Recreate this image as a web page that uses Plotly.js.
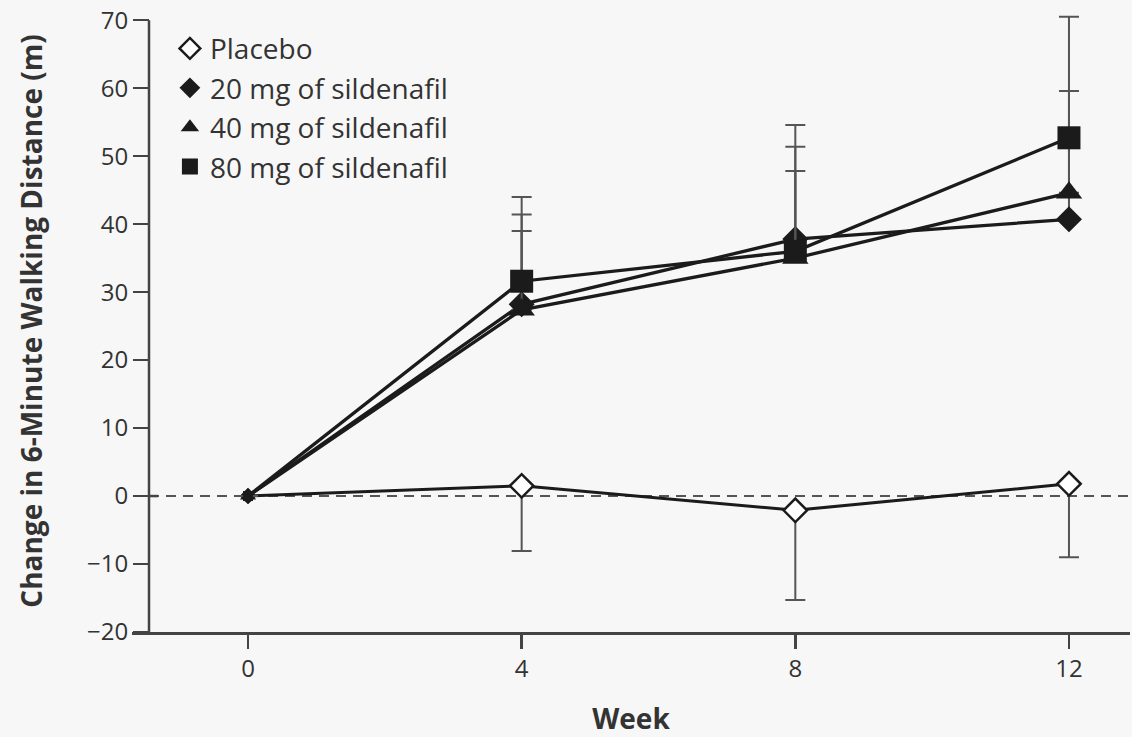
<!DOCTYPE html>
<html>
<head>
<meta charset="utf-8">
<script src="https://cdn.plot.ly/plotly-3.0.1.min.js"></script>
<style>
  html, body { margin: 0; padding: 0; background: #f7f7f7; }
  #chart { width: 1132px; height: 737px; }
</style>
</head>
<body>
<div id="chart"></div>
<script>
// ---- data ----
var weeks = [0, 4, 8, 12];
var weekLabels = ['0', '4', '8', '12'];

var placebo = [0, 1.5, -2.1, 1.8];
var placeboLower = [null, -8.1, -15.3, -9.0];

var mg20 = [0, 28.2, 37.8, 40.7];
var mg20Upper = [null, 41.4, 51.4, 53.0];

var mg40 = [0, 27.4, 35.0, 44.6];
var mg40Upper = [null, 39.0, 47.8, 59.6];

var mg80 = [0, 31.6, 36.0, 52.7];
var mg80Upper = [null, 44.0, 54.6, 70.5];

var seriesNames = ['Placebo', '20 mg of sildenafil', '40 mg of sildenafil', '80 mg of sildenafil'];

// ---- helpers ----
function diffUp(vals, up) { return vals.map(function (v, i) { return up[i] == null ? 0 : up[i] - v; }); }
function diffDown(vals, lo) { return vals.map(function (v, i) { return lo[i] == null ? 0 : v - lo[i]; }); }
function zeros(n) { var a = []; for (var i = 0; i < n; i++) a.push(0); return a; }
function sizes(first, rest, n) { var a = [first]; for (var i = 1; i < n; i++) a.push(rest); return a; }

var lineColor = '#1b1b1b';
var errColor = '#555555';
var axisColor = '#444444';
var FONT = '"Open Sans", Lato, sans-serif';
var TXT = '#333333';

function errUp(vals, up) {
  return { type: 'data', symmetric: false, array: diffUp(vals, up), arrayminus: zeros(vals.length),
           color: errColor, thickness: 2, width: 10 };
}

var n = weeks.length;
var traces = [
  { x: weeks, y: placebo, mode: 'lines+markers', showlegend: false, cliponaxis: false,
    line: { color: lineColor, width: 3 },
    marker: { symbol: 'diamond', size: sizes(10, 18, n), opacity: 1, color: '#ffffff', line: { width: 2.5, color: lineColor } },
    error_y: { type: 'data', symmetric: false, array: zeros(n),
               arrayminus: diffDown(placebo, placeboLower), color: errColor, thickness: 2, width: 10 } },
  { x: weeks, y: mg20, mode: 'lines+markers', showlegend: false, cliponaxis: false,
    line: { color: lineColor, width: 3.3 },
    marker: { symbol: 'diamond', size: sizes(12, 20, n), opacity: 1, color: lineColor, line: { width: 0 } },
    error_y: errUp(mg20, mg20Upper) },
  { x: weeks, y: mg40, mode: 'lines+markers', showlegend: false, cliponaxis: false,
    line: { color: lineColor, width: 3.3 },
    marker: { symbol: 'triangle-up', size: sizes(14, 23, n), opacity: 1, color: lineColor, line: { width: 0 } },
    error_y: errUp(mg40, mg40Upper) },
  { x: weeks, y: mg80, mode: 'lines+markers', showlegend: false, cliponaxis: false,
    line: { color: lineColor, width: 3.3 },
    marker: { symbol: 'square', size: sizes(10, 23, n), opacity: 1, color: lineColor, line: { width: 0 } },
    error_y: errUp(mg80, mg80Upper) },
  // legend-only entries (markers without lines)
  { x: [null], y: [null], mode: 'markers', name: seriesNames[0], legendgroup: 'a',
    marker: { symbol: 'diamond', size: 16, color: '#ffffff', line: { width: 2.5, color: lineColor } } },
  { x: [null], y: [null], mode: 'markers', name: seriesNames[1], legendgroup: 'b',
    marker: { symbol: 'diamond', size: 18, color: lineColor } },
  { x: [null], y: [null], mode: 'markers', name: seriesNames[2], legendgroup: 'c',
    marker: { symbol: 'triangle-up', size: 18, color: lineColor } },
  { x: [null], y: [null], mode: 'markers', name: seriesNames[3], legendgroup: 'd',
    marker: { symbol: 'square', size: 16, color: lineColor } }
];

var yAxisPos = 17 / 998;
var yTop = 71.5;

var layout = {
  width: 1132, height: 737,
  margin: { l: 132, r: 2, t: 10, b: 105, pad: 0 },
  paper_bgcolor: '#f7f7f7',
  plot_bgcolor: '#f7f7f7',
  font: { family: FONT, color: TXT, size: 24 },
  showlegend: true,
  legend: {
    x: 0.038, y: 0.978, xanchor: 'left', yanchor: 'top',
    bgcolor: 'rgba(0,0,0,0)', font: { family: FONT, size: 28, color: TXT },
    itemclick: false, tracegroupgap: 0
  },
  xaxis: {
    range: [-1.6955, 12.892],
    tickmode: 'array', tickvals: weeks, ticktext: weekLabels,
    showgrid: false, zeroline: false,
    showline: true, linecolor: axisColor, linewidth: 2.5,
    ticks: 'outside', ticklen: 14, tickwidth: 2.5, tickcolor: axisColor,
    tickfont: { family: FONT, size: 24, color: TXT },
    title: { text: '<b>Week</b>', font: { family: FONT, size: 28, color: TXT }, standoff: 26 }
  },
  yaxis: {
    range: [-20, yTop],
    anchor: 'free', position: yAxisPos,
    tickmode: 'linear', tick0: -20, dtick: 10,
    showgrid: false, zeroline: false,
    showline: false,
    ticks: 'outside', ticklen: 16, tickwidth: 2.5, tickcolor: axisColor,
    tickfont: { family: FONT, size: 24, color: TXT },
    title: { text: 'Change in 6-Minute Walking Distance (m)', font: { family: FONT, size: 28, weight: 700, color: TXT }, standoff: 35 }
  },
  shapes: [
    { type: 'line', layer: 'below', xref: 'paper', yref: 'y',
      x0: yAxisPos, x1: 1, y0: 0, y1: 0,
      line: { color: '#555555', width: 2, dash: '10px,7px' } },
    { type: 'line', layer: 'above', xref: 'paper', yref: 'y',
      x0: yAxisPos, x1: yAxisPos, y0: -20, y1: 70,
      line: { color: axisColor, width: 2.5 } },
    { type: 'line', layer: 'above', xref: 'paper', yref: 'y',
      xsizemode: 'pixel', xanchor: yAxisPos, x0: 0, x1: 9, y0: 0, y1: 0,
      line: { color: axisColor, width: 2.5 } }
  ]
};

Plotly.newPlot('chart', traces, layout, { displayModeBar: false, staticPlot: true });
</script>
</body>
</html>
